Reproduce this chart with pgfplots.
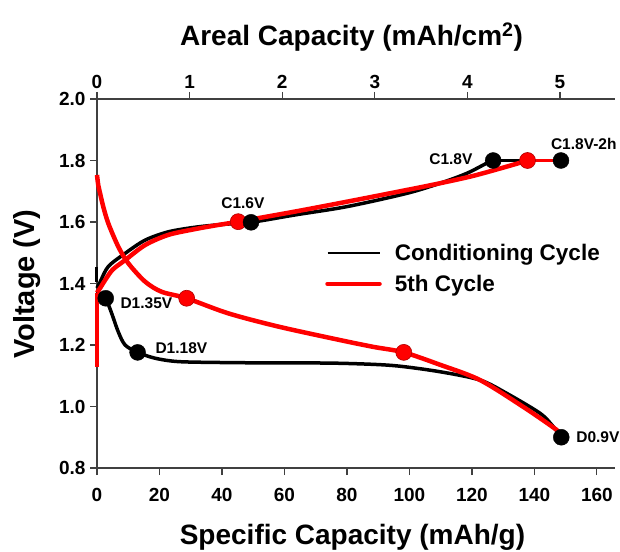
\documentclass[border=0pt]{standalone}
\usepackage{fontspec}
\setmainfont{Liberation Sans}
\usepackage{pgfplots}
\pgfplotsset{compat=1.18}
\begin{document}
\begin{tikzpicture}[x=1pt,y=1pt]
\pgfplotsset{
  commonax/.style={
    at={(0,0)}, anchor=south west,
    scale only axis, width=518pt, height=369pt,
    ymin=0.8, ymax=2.0,
    tick align=outside,
    major tick length=7pt,
    every tick/.style={black!75, line width=1.2pt},
    axis line style={black!75, line width=1.3pt},
    tick label style={font=\fontsize{19}{21}\selectfont\bfseries},
    /pgf/number format/assume math mode=true,
  }
}
\begin{axis}[commonax,
  xmin=0, xmax=165.8,
  axis x line*=bottom, axis y line*=left,
  xtick={0,20,...,160},
  ytick={0.8,1.0,...,2.0},
  yticklabel style={/pgf/number format/fixed, /pgf/number format/precision=1, /pgf/number format/fixed zerofill, xshift=-1pt},
  xticklabel style={yshift=-10pt},
  clip=false,
  legend style={draw=none, fill=none, at={(axis cs:73.0,1.535)}, anchor=north west,
    inner sep=0pt, font=\fontsize{22.5}{24}\selectfont\bfseries,
    row sep=9pt, /tikz/every odd column/.append style={column sep=11pt}},
  legend cell align=left,
  legend image code/.code={\draw[#1] (0pt,0pt) -- (52pt,0pt);},
]
\addlegendimage{black, line width=1.2pt}
\addlegendimage{red, line width=4.5pt, line cap=round}
\legend{Conditioning Cycle, 5th Cycle}

% ---- Conditioning cycle (black) ----
\addplot[black, line width=3pt] coordinates {(0,1.455) (0,1.405)};
\addplot[black, line width=3.5pt, smooth, tension=0.5] coordinates {
(0,1.385) (1,1.405) (3.6,1.455) (9,1.498) (15.4,1.541) (22.8,1.568) (31.4,1.583)
(40,1.592) (49.3,1.599) (63.4,1.623) (80,1.650) (99.1,1.693) (109.8,1.726)
(118.3,1.758) (124.7,1.791) (126.8,1.800)};
\addplot[black, line width=3.5pt] coordinates {(126.8,1.80) (148.5,1.80)};
\addplot[black, line width=3.5pt, smooth, tension=0.5] coordinates {
(0,1.375) (1.5,1.362) (2.8,1.352) (4.7,1.303) (6.8,1.243) (9,1.200) (13,1.176)
(18.6,1.157) (26,1.146) (40,1.143) (52.7,1.142) (65,1.142) (80,1.140) (95,1.133)
(109.8,1.113) (122.6,1.086) (131.1,1.043) (141.8,0.978) (146,0.935) (148.6,0.900)};

% ---- 5th cycle (red) ----
\addplot[red, line width=4.5pt] coordinates {(0,1.13) (0,1.37)};
\addplot[red, line width=4.5pt, smooth, tension=0.5] coordinates {
(0,1.37) (1,1.385) (2.6,1.411) (5,1.445) (9,1.476) (15.4,1.525) (22.8,1.558)
(31.4,1.577) (38,1.589) (45.2,1.601) (63.4,1.634) (80,1.666) (99.1,1.704)
(109.8,1.726) (120.4,1.750) (131.1,1.780) (137.8,1.800)};
\addplot[red, line width=3pt] coordinates {(137.8,1.80) (148.5,1.80)};
\addplot[red, line width=4.5pt, smooth, tension=0.5] coordinates {
(0,1.753) (0.4,1.72) (1,1.693) (2,1.65) (3.6,1.596) (6.8,1.52) (10,1.466)
(15.4,1.406) (20.7,1.373) (28.7,1.352) (42,1.303) (58,1.260) (77.8,1.216)
(88.4,1.194) (98.2,1.176) (110,1.135) (122.6,1.086) (136.4,0.999) (147.1,0.924)
(148.2,0.907)};

% ---- markers ----
\addplot[only marks, mark=*, mark size=8pt, mark options={fill=red, draw=red!70!black, line width=0.6pt}]
coordinates {(28.7,1.352) (98.2,1.176) (45.2,1.601) (137.8,1.80)};
\addplot[only marks, mark=*, mark size=8pt, mark options={fill=black, draw=black}]
coordinates {(2.8,1.352) (13.0,1.176) (49.3,1.599) (126.8,1.80) (148.5,1.80) (148.6,0.90)};

% ---- point labels ----
\begin{scope}[font=\fontsize{15.5}{17}\selectfont\bfseries]
\node at (axis cs:46.7,1.662) {C1.6V};
\node[anchor=east] at (axis cs:121.3,1.805) {C1.8V};
\node at (axis cs:155.8,1.854) {C1.8V-2h};
\node[anchor=west] at (axis cs:6.4,1.337) {D1.35V};
\node[anchor=west] at (axis cs:17.6,1.19) {D1.18V};
\node[anchor=west] at (axis cs:152.3,0.90) {D0.9V};
\end{scope}
\end{axis}

\begin{axis}[commonax,
  xmin=0, xmax=5.594,
  axis x line*=top, axis y line=none,
  xtick={0,1,...,5},
]
\addplot[draw=none] coordinates {(0,1)};
\end{axis}

\node[rotate=90, font=\fontsize{29}{32}\selectfont\bfseries] at (-70,184) {Voltage (V)};
\node[font=\fontsize{28}{30}\selectfont\bfseries] at (255.5,-69) {Specific Capacity (mAh/g)};
\node[font=\fontsize{28}{30}\selectfont\bfseries] at (254.5,431) {Areal Capacity (mAh/cm\textsuperscript{2})};

\pgfresetboundingbox
\path[use as bounding box] (-97,-83) rectangle (523,468);
\end{tikzpicture}
\end{document}
